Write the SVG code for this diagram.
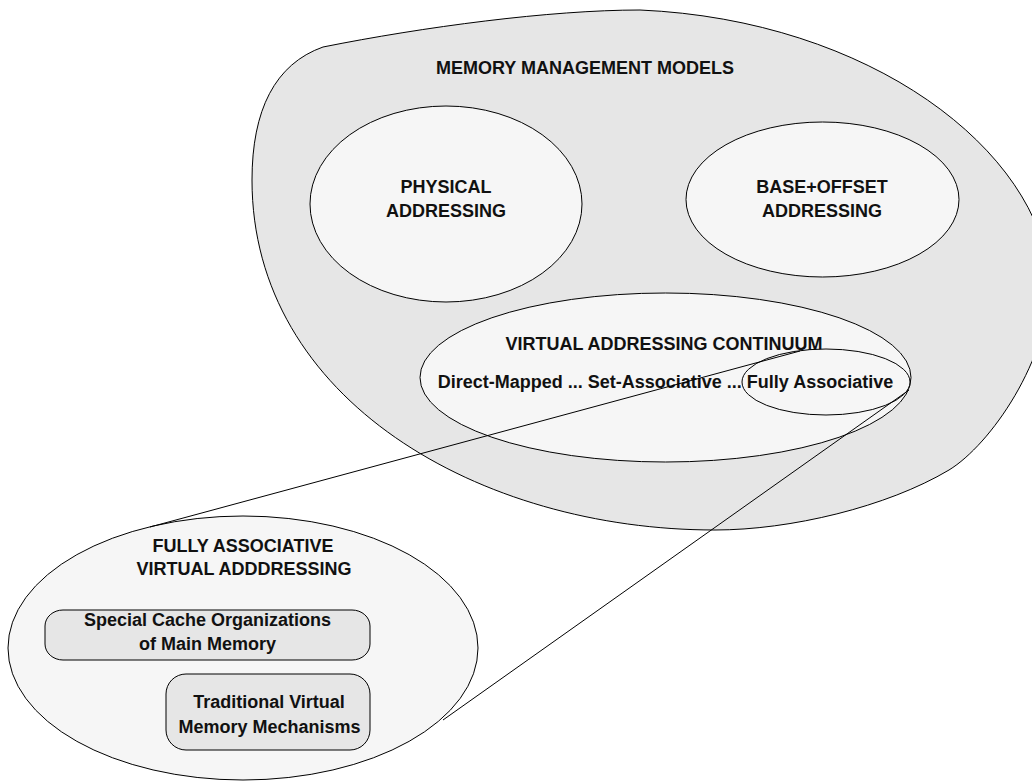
<svg xmlns="http://www.w3.org/2000/svg" width="1032" height="781" viewBox="0 0 1032 781">
<style>
.shape{stroke:#000;stroke-width:1}
.outer{fill:#e6e6e6}
.inner{fill:#f6f6f6}
.box{fill:#e6e6e6}
text{font-family:"Liberation Sans",Arial,sans-serif;font-weight:bold;font-size:18px;fill:#111;text-anchor:middle}
.conn{stroke:#000;stroke-width:1;fill:none}
</style>
<rect width="1032" height="781" fill="#fff"/>
<g id="memory-management-models">
<path class="shape outer" d="M 323 47 C 423 27, 550 10, 640 10 C 870 20, 1040 150, 1050 280 C 1050 360, 990 445, 949 470 C 887 507, 790 530, 715 530 C 480 530, 252 400, 252 180 C 252 110, 275 64, 323 47 Z"/>
<text x="585" y="74">MEMORY MANAGEMENT MODELS</text>
</g>
<g id="physical-addressing">
<ellipse class="shape inner" cx="446" cy="204" rx="136" ry="98"/>
<text x="446" y="193">PHYSICAL</text>
<text x="446" y="217">ADDRESSING</text>
</g>
<g id="base-offset-addressing">
<ellipse class="shape inner" cx="822.5" cy="199.5" rx="136.5" ry="77.5"/>
<text x="822" y="193">BASE+OFFSET</text>
<text x="822" y="217">ADDRESSING</text>
</g>
<g id="virtual-addressing-continuum">
<ellipse class="shape inner" cx="665.5" cy="377.5" rx="245.5" ry="84.5"/>
<text x="664" y="350">VIRTUAL ADDRESSING CONTINUUM</text>
</g>
<g id="fully-associative">
<ellipse class="shape inner" cx="826" cy="382" rx="84" ry="33"/>
</g>
<g id="continuum-label">
<text x="665.5" y="388">Direct-Mapped ... Set-Associative ... Fully Associative</text>
</g>
<g id="fully-associative-virtual-addressing">
<ellipse class="shape inner" cx="243" cy="648" rx="235" ry="132"/>
<text x="243" y="552">FULLY ASSOCIATIVE</text>
<text x="244" y="575">VIRTUAL ADDDRESSING</text>
</g>
<g id="special-cache-organizations">
<rect class="shape box" x="45" y="610" width="325" height="50" rx="18" ry="16"/>
<text x="207.5" y="626">Special Cache Organizations</text>
<text x="207.5" y="650">of Main Memory</text>
</g>
<g id="traditional-virtual-memory">
<rect class="shape box" x="166" y="674" width="204" height="76" rx="20" ry="20"/>
<text x="269" y="708">Traditional Virtual</text>
<text x="269.5" y="733">Memory Mechanisms</text>
</g>
<g id="connectors">
<line class="conn" x1="800" y1="351" x2="150" y2="527"/>
<line class="conn" x1="909" y1="390" x2="443" y2="720"/>
</g>
</svg>
